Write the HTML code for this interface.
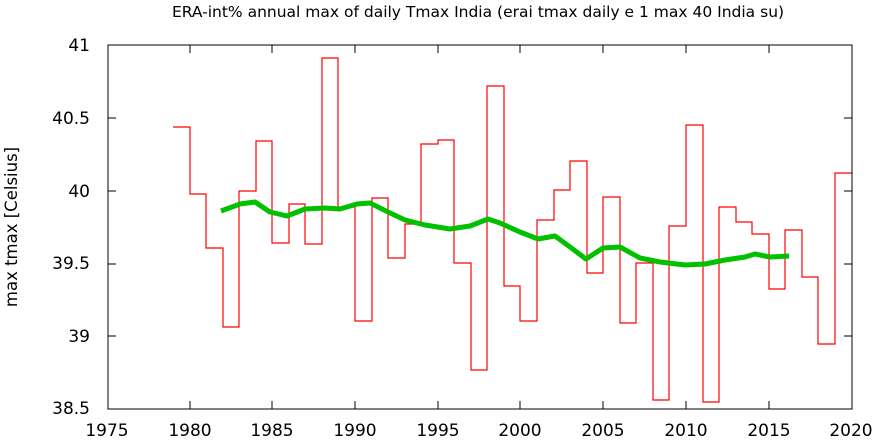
<!DOCTYPE html>
<html><head><meta charset="utf-8"><style>body{margin:0;background:#fff}svg{display:block}text{font-family:"DejaVu Sans","Liberation Sans",sans-serif}</style></head>
<body>
<svg width="875" height="440" xmlns="http://www.w3.org/2000/svg">
<rect width="875" height="440" fill="#fff"/>
<text x="478" y="17" font-size="15.5" text-anchor="middle">ERA-int% annual max of daily Tmax India (erai tmax daily e 1 max 40 India su)</text>
<text transform="translate(17,227) rotate(-90)" font-size="16.5" text-anchor="middle">max tmax [Celsius]</text>
<g font-size="17" text-anchor="end">
<text x="90" y="51">41</text><text x="90" y="124">40.5</text><text x="90" y="197">40</text><text x="90" y="269">39.5</text><text x="90" y="342">39</text><text x="90" y="414">38.5</text>
</g>
<g font-size="17" text-anchor="middle">
<text x="107" y="436">1975</text><text x="190" y="436">1980</text><text x="272" y="436">1985</text><text x="355" y="436">1990</text><text x="438" y="436">1995</text><text x="520" y="436">2000</text><text x="603" y="436">2005</text><text x="686" y="436">2010</text><text x="769" y="436">2015</text><text x="851" y="436">2020</text>
</g>
<g stroke="#000" stroke-width="1">
<path d="M190,45v8M272,45v8M355,45v8M438,45v8M520,45v8M603,45v8M686,45v8M769,45v8M190,409v-8M272,409v-8M355,409v-8M438,409v-8M520,409v-8M603,409v-8M686,409v-8M769,409v-8"/>
<path d="M108,118h8M108,191h8M108,264h8M108,336h8M852,118h-8M852,191h-8M852,264h-8M852,336h-8"/>
</g>
<polyline fill="none" stroke="#f00" stroke-width="1.2" points="
173,127 190,127 190,194 206,194 206,248 223,248 223,327 239,327 239,191 256,191 256,141 272,141 272,243 289,243 289,204 305,204 305,244 322,244 322,58 338,58 338,207 355,207 355,321 372,321 372,198 388,198 388,258 405,258 405,224 421,224 421,144 438,144 438,140 454,140 454,263 471,263 471,370 487,370 487,86 504,86 504,286 520,286 520,321 537,321 537,220 554,220 554,190 570,190 570,161 587,161 587,273 603,273 603,197 620,197 620,323 636,323 636,263 653,263 653,400 669,400 669,226 686,226 686,125 703,125 703,402 719,402 719,207 736,207 736,222 752,222 752,234 769,234 769,289 785,289 785,230 802,230 802,277 818,277 818,344 835,344 835,173 852,173"/>
<polyline fill="none" stroke="#00c000" stroke-width="5" stroke-linejoin="round" points="221,211 240,204 255,202 270,212 287,216 305,209 325,208 340,209 357,204 370,203 388,212 405,220 425,225 450,229 470,226 488,219 500,223 520,232 538,239 555,236 570,247 586,259 603,248 620,247 640,258 660,262 685,265 705,264 725,260 745,257 755,254 770,257 789,256"/>
<rect x="108" y="45" width="744" height="364" fill="none" stroke="#000" stroke-width="1"/>
</svg>
</body></html>
